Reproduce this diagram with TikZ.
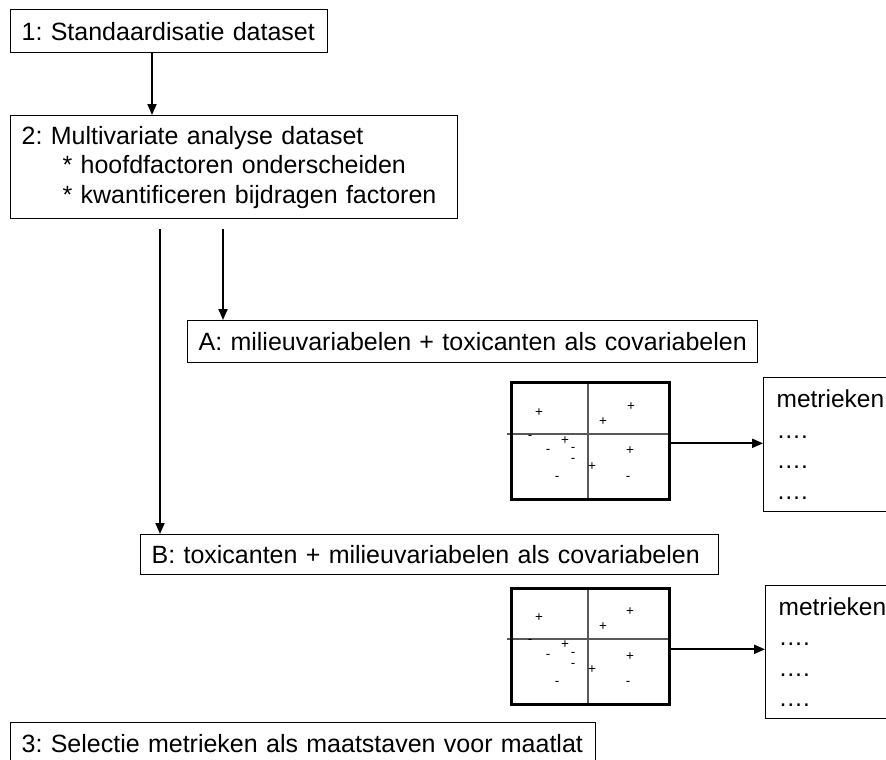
\documentclass[tikz,border=0pt]{standalone}
\usepackage{fontspec}
\setmainfont{Liberation Sans}
\usetikzlibrary{arrows.meta}
\frenchspacing
\begin{document}
\begin{tikzpicture}[x=1pt,y=-1pt,
  boxn/.style={draw=black, line width=1.2pt, anchor=north west, inner xsep=11pt, inner ysep=0pt, align=left, font=\fontsize{25}{29.5}\selectfont},
  mbox/.style={draw=black, line width=1.2pt, anchor=north west, inner xsep=13pt, inner ysep=0pt, align=left, text width=114pt, minimum width=140pt, font=\fontsize{24.5}{30.5}\selectfont},
  arr/.style={line width=2pt, -{Triangle[length=11pt,width=9pt]}},
  frame/.style={draw=black, line width=2.6pt, minimum width=158pt, minimum height=117pt, anchor=north west, inner sep=0pt},
  axis/.style={draw=black!65, line width=1.1pt},
  sgn/.style={font=\fontsize{13.5}{13.5}\selectfont, inner sep=0pt},
]
\useasboundingbox (0,0) rectangle (886,760);
\clip (0,0) rectangle (886,760);
\fill[white] (0,0) rectangle (886,760);

% main boxes
\node[boxn, text width=295pt, minimum height=43pt] (b1) at (10,9) {\mbox{1: Standaardisatie dataset}};
\node[boxn, text width=425pt, minimum height=103pt] (b2) at (10,115) {\mbox{2: Multivariate analyse dataset}\\\mbox{\hspace*{41pt}* hoofdfactoren onderscheiden}\\\mbox{\hspace*{41pt}* kwantificeren bijdragen factoren}};
\node[boxn, text width=548pt, minimum height=42pt] (bA) at (187,320) {\mbox{A: milieuvariabelen + toxicanten als covariabelen}};
\node[boxn, text width=556pt, minimum height=40pt] (bB) at (140,534) {\mbox{B: toxicanten + milieuvariabelen als covariabelen}};
\node[boxn, text width=563pt, minimum height=42pt] (b3) at (10,722) {\mbox{3: Selectie metrieken als maatstaven voor maatlat}};

% arrows between boxes
\draw[arr] (152,0 |- b1.south) -- (152,0 |- b2.north);
\draw[arr] ([yshift=-10pt]223,0 |- b2.south) -- (223,0 |- bA.north);
\draw[arr] ([yshift=-10pt]160,0 |- b2.south) -- (160,0 |- bB.north);

% scatter A
\draw[axis] (588,381) -- (588,498);
\draw[axis] (507,434) -- (668,434);
\node[frame] (sc1) at (510,381) {};
\foreach \s/\dx/\dy [count=\i] in {+/29/32, +/121/26, +/93/41, -/20/56, +/55/60, -/38/70, -/63/68, -/63/79, +/82/86, +/120/70, -/47/97, -/118/97}
  \node[sgn] (pa\i) at (510+\dx, 381+\dy) {\s};
\node[mbox, minimum height=134pt] (m1) at (763,377) {metrieken\\….\\….\\….};
\draw[arr] ([yshift=-2.5pt]sc1.east) -- ([yshift=-2.5pt]sc1.east -| m1.west);

% scatter B
\draw[axis] (588,587) -- (588,703);
\draw[axis] (507,639) -- (668,639);
\node[frame, minimum height=116pt] (sc2) at (510,587) {};
\foreach \s/\dx/\dy [count=\i] in {+/29/31, +/120/25, +/93/40, -/20/54, +/55/58, -/38/69, -/63/67, -/63/78, +/82/83, +/120/70, -/47/96, -/118/96}
  \node[sgn] (pb\i) at (510+\dx, 587+\dy) {\s};
\node[mbox, minimum height=133pt] (m2) at (765,585) {metrieken\\….\\….\\….};
\draw[arr] ([yshift=-3pt]sc2.east) -- ([yshift=-3pt]sc2.east -| m2.west);
\end{tikzpicture}
\end{document}
